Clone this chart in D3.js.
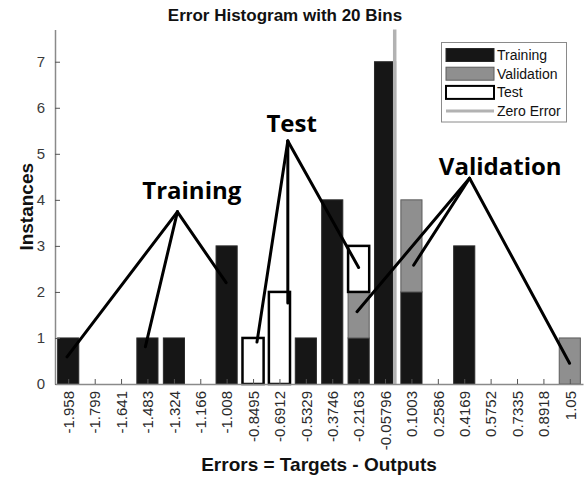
<!DOCTYPE html>
<html>
<head>
<meta charset="utf-8">
<script src="https://cdn.jsdelivr.net/npm/d3@7"></script>
<style>
  body { margin: 0; background: #fff; }
  svg { display: block; }
</style>
</head>
<body>
<div id="chart"></div>
<script>
// data
const binCenters = [-1.958, -1.799, -1.641, -1.483, -1.324, -1.166, -1.008, -0.8495, -0.6912, -0.5329,
  -0.3746, -0.2163, -0.05796, 0.1003, 0.2586, 0.4169, 0.5752, 0.7335, 0.8918, 1.05];
const binLabels = ["-1.958", "-1.799", "-1.641", "-1.483", "-1.324", "-1.166", "-1.008", "-0.8495", "-0.6912", "-0.5329",
  "-0.3746", "-0.2163", "-0.05796", "0.1003", "0.2586", "0.4169", "0.5752", "0.7335", "0.8918", "1.05"];
const trainingCounts   = [1, 0, 0, 1, 1, 0, 3, 0, 0, 1, 4, 1, 7, 2, 0, 3, 0, 0, 0, 0];
const validationCounts = [0, 0, 0, 0, 0, 0, 0, 0, 0, 0, 0, 1, 0, 2, 0, 0, 0, 0, 0, 1];
const testCounts       = [0, 0, 0, 0, 0, 0, 0, 1, 2, 0, 0, 1, 0, 0, 0, 0, 0, 0, 0, 0];
const yTicks = [0, 1, 2, 3, 4, 5, 6, 7];
const seriesNames = ["Training", "Validation", "Test"];

// callouts in data units (error, instances)
const callouts = [
  { text: "Training", label: [-1.217, 4.01], apex: [-1.303, 3.74],
    targets: [[-1.965, 0.59], [-1.495, 0.81], [-1.011, 2.2]] },
  { text: "Test", label: [-0.618, 5.48], apex: [-0.641, 5.28],
    targets: [[-0.826, 0.91], [-0.641, 1.76], [-0.2165, 2.53]] },
  { text: "Validation", label: [0.633, 4.55], apex: [0.449, 4.47],
    targets: [[-0.226, 1.57], [0.1133, 2.58], [1.0485, 0.45]] }
];

//size
const width = 585;
const height = 479;
const margin = { top: 29.5, bottom: 95, left: 55, right: 2 };

const binWidth = (binCenters[binCenters.length - 1] - binCenters[0]) / (binCenters.length - 1);

const x = d3.scaleLinear()
  .domain([binCenters[0] - binWidth / 2, binCenters[binCenters.length - 1] + binWidth / 2])
  .range([margin.left, width - margin.right]);
const y = d3.scaleLinear()
  .domain([0, 7.7])
  .range([height - margin.bottom, margin.top]);

const barW = (x(binWidth) - x(0)) * 0.8;

const rows = binCenters.map((c, i) => ({
  center: c,
  Training: trainingCounts[i],
  Validation: validationCounts[i],
  Test: testCounts[i]
}));
const stacked = d3.stack().keys(seriesNames)(rows);

const fills = { Training: "#161616", Validation: "#8f8f8f", Test: "#ffffff" };
const strokes = { Training: "#2a2a2a", Validation: "#5c5c5c", Test: "#000000" };
const strokeW = { Training: 1, Validation: 1, Test: 2.5 };

const svg = d3.select("#chart").append("svg")
  .attr("width", width)
  .attr("height", height);

// title
svg.append("text")
  .attr("x", 285).attr("y", 21)
  .attr("text-anchor", "middle")
  .style("font", "bold 17px 'Liberation Sans', Arial, sans-serif")
  .attr("fill", "#111")
  .text("Error Histogram with 20 Bins");

// bars
svg.append("g").selectAll("g")
  .data(stacked)
  .join("g")
  .each(function (s) {
    d3.select(this).selectAll("rect")
      .data(s.filter(d => d[1] - d[0] > 0))
      .join("rect")
      .attr("x", d => x(d.data.center) - barW / 2)
      .attr("y", d => y(d[1]))
      .attr("width", barW)
      .attr("height", d => y(d[0]) - y(d[1]))
      .attr("fill", fills[s.key])
      .attr("stroke", strokes[s.key])
      .attr("stroke-width", strokeW[s.key]);
  });

// zero error line
svg.append("line")
  .attr("x1", x(0)).attr("x2", x(0))
  .attr("y1", y(7.7)).attr("y2", y(0))
  .attr("stroke", "#b2b2b2")
  .attr("stroke-width", 3.5);

// axes
const yAxis = svg.append("g")
  .attr("transform", `translate(${margin.left},0)`)
  .call(d3.axisLeft(y).tickValues(yTicks).tickSizeInner(-5).tickSizeOuter(0).tickPadding(10));
yAxis.select(".domain").attr("stroke", "#8a8a8a").attr("stroke-width", 1.5);
yAxis.selectAll(".tick line").attr("stroke", "#555");
yAxis.selectAll(".tick text")
  .attr("fill", "#3a3a3a")
  .style("font", "15px 'Liberation Sans', Arial, sans-serif");

const xAxis = svg.append("g")
  .attr("transform", `translate(0,${y(0)})`)
  .call(d3.axisBottom(x).tickValues(binCenters).tickSizeInner(-5).tickSizeOuter(0)
    .tickFormat((d, i) => binLabels[i]));
xAxis.select(".domain").attr("stroke", "#8a8a8a").attr("stroke-width", 1.5);
xAxis.selectAll(".tick line").attr("stroke", "#555");
xAxis.selectAll(".tick text")
  .attr("fill", "#2a2a2a")
  .style("font", "15px 'Liberation Sans', Arial, sans-serif")
  .attr("text-anchor", "end")
  .attr("transform", "rotate(-90)")
  .attr("x", -7)
  .attr("y", 0)
  .attr("dy", "0.35em");

// axis titles
svg.append("text")
  .attr("x", (margin.left + width - margin.right) / 2)
  .attr("y", 471)
  .attr("text-anchor", "middle")
  .style("font", "bold 19px 'Liberation Sans', Arial, sans-serif")
  .attr("fill", "#111")
  .text("Errors = Targets - Outputs");

svg.append("text")
  .attr("transform", `translate(33,${(y(0) + y(7.7)) / 2}) rotate(-90)`)
  .attr("text-anchor", "middle")
  .style("font", "bold 19px 'Liberation Sans', Arial, sans-serif")
  .attr("fill", "#111")
  .text("Instances");

// callouts
const ann = svg.append("g");
callouts.forEach(c => {
  c.targets.forEach(t => {
    ann.append("line")
      .attr("x1", x(c.apex[0])).attr("y1", y(c.apex[1]))
      .attr("x2", x(t[0])).attr("y2", y(t[1]))
      .attr("stroke", "#000")
      .attr("stroke-width", 3)
      .attr("stroke-linecap", "round");
  });
  ann.append("text")
    .attr("x", x(c.label[0])).attr("y", y(c.label[1]))
    .attr("text-anchor", "middle")
    .style("font", "bold 24px 'Open Sans', sans-serif")
    .attr("fill", "#000")
    .text(c.text);
});

// legend
const legend = svg.append("g");
legend.append("rect")
  .attr("x", 441.5).attr("y", 42.5)
  .attr("width", 125).attr("height", 79.5)
  .attr("fill", "#fff")
  .attr("stroke", "#8a8a8a");
const legendItems = seriesNames.concat(["Zero Error"]);
legendItems.forEach((name, i) => {
  const cy = 55 + i * 18.7;
  if (name === "Zero Error") {
    legend.append("line")
      .attr("x1", 446).attr("x2", 494)
      .attr("y1", cy).attr("y2", cy)
      .attr("stroke", "#b2b2b2").attr("stroke-width", 3);
  } else {
    legend.append("rect")
      .attr("x", 446).attr("y", cy - 6.5)
      .attr("width", 48).attr("height", 13)
      .attr("fill", fills[name])
      .attr("stroke", strokes[name])
      .attr("stroke-width", name === "Test" ? 2 : 1);
  }
  legend.append("text")
    .attr("x", 497).attr("y", cy)
    .attr("dy", "0.35em")
    .style("font", "14px 'Liberation Sans', Arial, sans-serif")
    .attr("fill", "#111")
    .text(name);
});
</script>
</body>
</html>
